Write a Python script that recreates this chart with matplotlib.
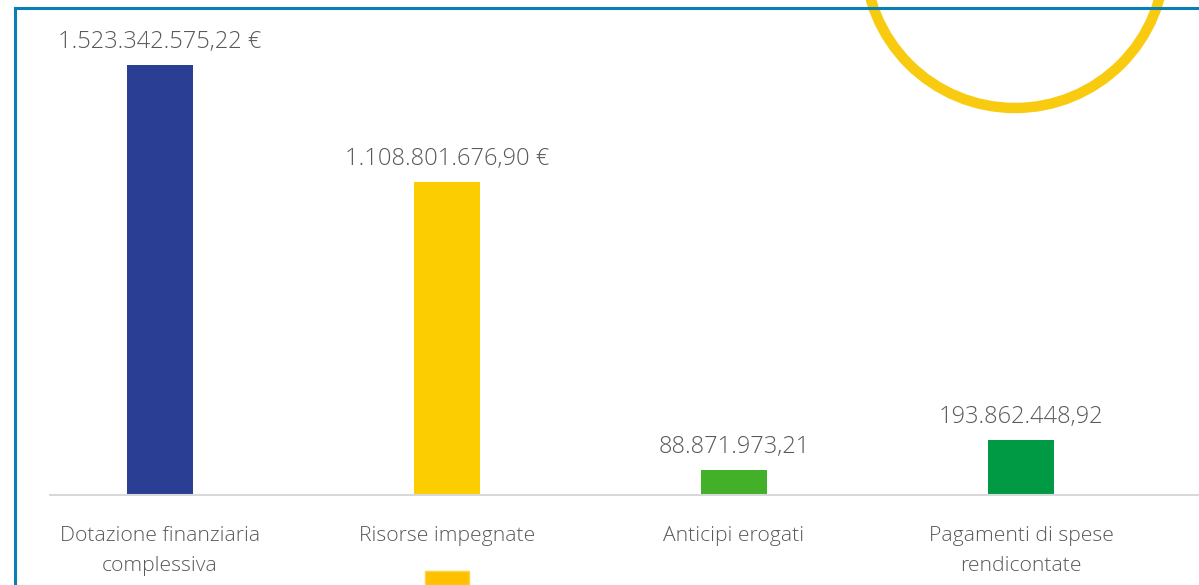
import matplotlib.pyplot as plt
from matplotlib.patches import Ellipse, Rectangle
from matplotlib.lines import Line2D

categories = ["Dotazione finanziaria\ncomplessiva", "Risorse impegnate",
              "Anticipi erogati", "Pagamenti di spese\nrendicontate"]
values = [1523342575.22, 1108801676.90, 88871973.21, 193862448.92]
value_labels = ["1.523.342.575,22 €", "1.108.801.676,90 €",
                "88.871.973,21", "193.862.448,92"]
colors = ["#2a3f93", "#fccd00", "#43b02a", "#009a44"]

plt.rcParams['font.family'] = ['Open Sans', 'DejaVu Sans']

W, H = 1199, 585
fig = plt.figure(figsize=(W / 100, H / 100), dpi=100)

# axes: left edge x=50, baseline y=495, top y=8 (pixels)
ax = fig.add_axes([50 / W, (H - 495) / H, (W - 50) / W, (495 - 8) / H])
x = list(range(len(categories)))
ax.bar(x, values, width=0.23, color=colors, zorder=2)
ax.set_xlim(-0.383, 3.62)
ax.set_ylim(0, 487 / 0.2826 * 1e6)

for i, (v, lab) in enumerate(zip(values, value_labels)):
    ax.annotate(lab, (i, v), xytext=(0, 11), textcoords='offset pixels',
                ha='center', va='bottom', fontsize=17, color='#595959',
                fontweight='light')

for s in ['top', 'right', 'left']:
    ax.spines[s].set_visible(False)
ax.spines['bottom'].set_color('#d9d9d9')
ax.spines['bottom'].set_linewidth(1.5)
ax.set_yticks([])
ax.set_xticks(x)
ax.set_xticklabels(categories, fontsize=15.2, color='#595959', fontweight='light',
                   linespacing=1.7)
ax.tick_params(axis='x', length=0, pad=22)
ax.patch.set_alpha(0)

# decorations in pixel coordinates
def px(xp, yp):
    return xp / W, (H - yp) / H

circ = Ellipse(px(1015, -42), 300 / W, 300 / H, transform=fig.transFigure,
               fill=False, edgecolor='#f9cb10', linewidth=7.5, zorder=5)
fig.patches.append(circ)

rect = Rectangle(px(425, 585), 44 / W, 14 / H, transform=fig.transFigure,
                 facecolor='#ffc000', edgecolor='#ffd23f', linewidth=1)
fig.patches.append(rect)

border_c = '#0a7fb5'
fig.add_artist(Line2D([15 / W, 1], [(H - 7.5) / H] * 2, color=border_c,
                      linewidth=2.2, zorder=10))
fig.add_artist(Line2D([15 / W] * 2, [0, (H - 7.5) / H], color=border_c,
                      linewidth=2.2, zorder=10))

fig.savefig('out.png', dpi=100, facecolor='white')
